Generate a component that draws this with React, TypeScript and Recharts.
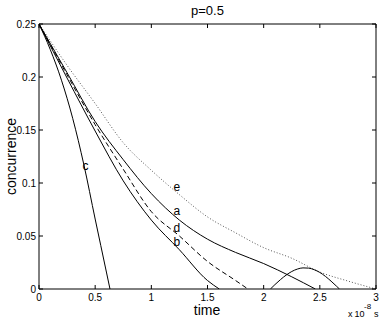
import React from "react";
import { LineChart, Line, XAxis, YAxis, ReferenceDot } from "recharts";

const FONT = "'Liberation Sans', Arial, Helvetica, sans-serif";

// time in units of 1e-8 s
const xTicks = [0, 0.5, 1, 1.5, 2, 2.5, 3];
const yTicks = [0, 0.05, 0.1, 0.15, 0.2, 0.25];

const aTime = [0, 0.25, 0.5, 0.75, 1.0, 1.25, 1.5, 1.75, 2.0, 2.25, 2.46];
const aConc = [0.25, 0.204, 0.158, 0.122, 0.09, 0.065, 0.047, 0.0345, 0.024, 0.0115, 0];

const bTime = [0, 0.25, 0.5, 0.75, 1.0, 1.25, 1.5, 1.605];
const bConc = [0.25, 0.199, 0.149, 0.102, 0.065, 0.037, 0.008, 0];

// revival bump after sudden death
const bRevTime = [2.06, 2.1, 2.15, 2.2, 2.25, 2.3, 2.35, 2.4, 2.45, 2.5, 2.55, 2.6, 2.65, 2.675];
const bRevConc = [0, 0.0041, 0.0089, 0.0131, 0.0165, 0.0188, 0.0199, 0.0197, 0.0182, 0.0156, 0.0119, 0.0074, 0.0025, 0];

const cTime = [0, 0.1, 0.2, 0.3, 0.4, 0.5, 0.6, 0.632];
const cConc = [0.25, 0.226, 0.197, 0.161, 0.117, 0.066, 0.016, 0];

const dTime = [0, 0.25, 0.5, 0.75, 1.0, 1.25, 1.5, 1.75, 1.86];
const dConc = [0.25, 0.202, 0.155, 0.113, 0.073, 0.05, 0.026, 0.008, 0];

const eTime = [0, 0.25, 0.5, 0.75, 1.0, 1.25, 1.5, 1.75, 2.0, 2.25, 2.5, 2.75, 3.0];
const eConc = [0.25, 0.211, 0.175, 0.138, 0.112, 0.089, 0.068, 0.053, 0.039, 0.029, 0.016, 0.0075, 0];

const curveNames = ["c", "e", "a", "d", "b"];
const nameTime = [0.414, 1.226, 1.226, 1.226, 1.226];
const nameConc = [0.1165, 0.0965, 0.0739, 0.0582, 0.0446];

const toRows = (ts: number[], vs: number[]) => ts.map((t, i) => ({ t, v: vs[i] }));

const BottomTick = ({ x, y, payload }: any) => (
  <g>
    <line x1={x} x2={x} y1={y} y2={y - 4} stroke="#000" />
    <text x={x} y={y + 12} textAnchor="middle" fontSize={10} fontFamily={FONT} fill="#000">
      {String(payload.value)}
    </text>
  </g>
);

const TopTick = ({ x, y }: any) => <line x1={x} x2={x} y1={y} y2={y + 4} stroke="#000" />;

const LeftTick = ({ x, y, payload }: any) => (
  <g>
    <line x1={x} x2={x + 4} y1={y} y2={y} stroke="#000" />
    <text x={x - 3} y={y + 4} textAnchor="end" fontSize={10} fontFamily={FONT} fill="#000">
      {String(payload.value)}
    </text>
  </g>
);

const RightTick = ({ x, y }: any) => <line x1={x} x2={x - 4} y1={y} y2={y} stroke="#000" />;

export default function App() {
  const solid = { stroke: "#000", strokeWidth: 1, dot: false, isAnimationActive: false, type: "monotone" as const };
  return (
    <div style={{ position: "absolute", left: 0, top: 0, width: 382, height: 321, background: "#fff" }}>
      <LineChart width={382} height={321} margin={{ top: 23, right: 5, left: 0, bottom: 0 }}>
        <XAxis
          dataKey="t"
          type="number"
          domain={[0, 3]}
          ticks={xTicks}
          height={32}
          tickSize={0}
          tickMargin={0}
          tickLine={false}
          axisLine={{ stroke: "#000" }}
          tick={<BottomTick />}
          allowDataOverflow
        />
        <XAxis
          xAxisId="top"
          dataKey="t"
          orientation="top"
          type="number"
          domain={[0, 3]}
          ticks={xTicks}
          height={1}
          tickSize={0}
          tickMargin={0}
          tickLine={false}
          axisLine={{ stroke: "#000" }}
          tick={<TopTick />}
          allowDataOverflow
        />
        <YAxis
          type="number"
          domain={[0, 0.25]}
          ticks={yTicks}
          width={39}
          tickSize={0}
          tickMargin={0}
          tickLine={false}
          axisLine={{ stroke: "#000" }}
          tick={<LeftTick />}
          allowDataOverflow
        />
        <YAxis
          yAxisId="right"
          orientation="right"
          type="number"
          domain={[0, 0.25]}
          ticks={yTicks}
          width={1}
          tickSize={0}
          tickMargin={0}
          tickLine={false}
          axisLine={{ stroke: "#000" }}
          tick={<RightTick />}
          allowDataOverflow
        />
        <Line
          data={toRows(eTime, eConc)}
          dataKey="v"
          xAxisId="top"
          yAxisId="right"
          {...solid}
          stroke="#555"
          strokeDasharray="1 2"
        />
        <Line data={toRows(aTime, aConc)} dataKey="v" {...solid} />
        <Line data={toRows(dTime, dConc)} dataKey="v" {...solid} strokeDasharray="5 3" />
        <Line data={toRows(bTime, bConc)} dataKey="v" {...solid} />
        <Line data={toRows(bRevTime, bRevConc)} dataKey="v" {...solid} />
        <Line data={toRows(cTime, cConc)} dataKey="v" {...solid} />
        {curveNames.map((n, i) => (
          <ReferenceDot
            key={n}
            x={nameTime[i]}
            y={nameConc[i]}
            r={0}
            fill="none"
            stroke="none"
            label={{ value: n, position: "center", fontSize: 12, fontFamily: FONT, fill: "#000" }}
          />
        ))}
      </LineChart>
      <svg
        width={382}
        height={321}
        style={{ position: "absolute", left: 0, top: 0, pointerEvents: "none" }}
      >
        <text x={207.5} y={15} textAnchor="middle" fontSize={13} fontFamily={FONT} fill="#000">
          p=0.5
        </text>
        <text x={207} y={315} textAnchor="middle" fontSize={14} fontFamily={FONT} fill="#000">
          time
        </text>
        <text
          x={16}
          y={156.5}
          transform="rotate(-90 16 156.5)"
          textAnchor="middle"
          fontSize={14}
          fontFamily={FONT}
          fill="#000"
        >
          concurrence
        </text>
        <text x={348} y={317} fontSize={9} fontFamily={FONT} fill="#000">
          x
        </text>
        <text x={354.5} y={317} fontSize={9} fontFamily={FONT} fill="#000">
          10
        </text>
        <text x={364} y={309} fontSize={8} fontFamily={FONT} fill="#000">
          -8
        </text>
        <text x={374} y={317} fontSize={9} fontFamily={FONT} fill="#000">
          s
        </text>
      </svg>
    </div>
  );
}
